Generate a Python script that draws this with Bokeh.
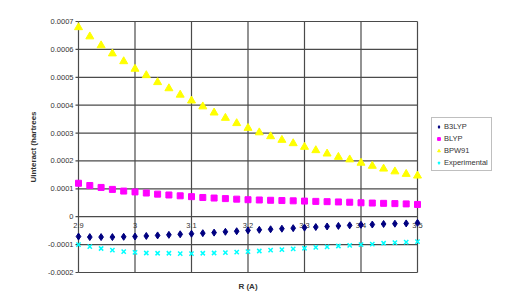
import math
from bokeh.plotting import figure
from bokeh.models import Legend, LegendItem, ColumnDataSource
from bokeh.core.properties import value
from bokeh.embed import file_html
from bokeh.resources import INLINE

r_values = [2.90, 2.92, 2.94, 2.96, 2.98, 3.00, 3.02, 3.04, 3.06, 3.08, 3.10,
            3.12, 3.14, 3.16, 3.18, 3.20, 3.22, 3.24, 3.26, 3.28, 3.30,
            3.32, 3.34, 3.36, 3.38, 3.40, 3.42, 3.44, 3.46, 3.48, 3.50]

b3lyp = [-0.000071, -0.000073, -0.000073, -0.000073, -0.000072, -0.000071, -0.000069,
         -0.000067, -0.000065, -0.000063, -0.000061, -0.000059, -0.000057, -0.000054,
         -0.000052, -0.000049, -0.000047, -0.000045, -0.000043, -0.000041, -0.000039,
         -0.000037, -0.000035, -0.000033, -0.000031, -0.000029, -0.000028, -0.000026,
         -0.000025, -0.000024, -0.000022]

blyp = [0.000120, 0.000112, 0.000105, 0.000098, 0.000092, 0.000089, 0.000085,
        0.000081, 0.000078, 0.000075, 0.000072, 0.000069, 0.000067, 0.000065,
        0.000063, 0.000061, 0.000060, 0.000059, 0.000058, 0.000057, 0.000056,
        0.000055, 0.000054, 0.000053, 0.000052, 0.000050, 0.000049, 0.000048,
        0.000047, 0.000046, 0.000044]

bpw91 = [0.000679, 0.000646, 0.000614, 0.000585, 0.000557, 0.000530, 0.000507,
         0.000482, 0.000460, 0.000437, 0.000416, 0.000395, 0.000373, 0.000354,
         0.000335, 0.000318, 0.000302, 0.000288, 0.000275, 0.000263, 0.000250,
         0.000238, 0.000226, 0.000214, 0.000205, 0.000193, 0.000182, 0.000172,
         0.000162, 0.000153, 0.000147]

experimental = [-0.000100, -0.000107, -0.000114, -0.000120, -0.000125, -0.000128, -0.000130,
                -0.000131, -0.000131, -0.000132, -0.000132, -0.000131, -0.000130, -0.000129,
                -0.000127, -0.000125, -0.000123, -0.000120, -0.000118, -0.000115, -0.000113,
                -0.000110, -0.000108, -0.000105, -0.000103, -0.000100, -0.000098, -0.000095,
                -0.000093, -0.000091, -0.000089]

x_ticks = [2.9, 3.0, 3.1, 3.2, 3.3, 3.4, 3.5]
x_tick_labels = ["2.9", "3", "3.1", "3.2", "3.3", "3.4", "3.5"]
y_ticks = [-0.0002, -0.0001, 0, 0.0001, 0.0002, 0.0003, 0.0004, 0.0005, 0.0006, 0.0007]
y_tick_labels = ["-0.0002", "-0.0001", "0", "0.0001", "0.0002", "0.0003",
                 "0.0004", "0.0005", "0.0006", "0.0007"]
x_title = "R (A)"
y_title = "Uinteract (hartrees"

FONT = "Liberation Sans"
GRID = "#4a4a4a"
TXT = "#333333"

# Plot area (2.9..3.5, -0.0002..0.0007) occupies pixels x 78..417, y 21..272;
# the frame covers the whole page so that every label and the legend sit inside it.
W, H = 512, 303
px_x = (x_ticks[-1] - x_ticks[0]) / 339.0
px_y = (y_ticks[-1] - y_ticks[0]) / 251.0
x_range = (x_ticks[0] - 78 * px_x, x_ticks[-1] + 95 * px_x)
y_range = (y_ticks[0] - 31 * px_y, y_ticks[-1] + 21 * px_y)

p = figure(width=W, height=H, output_backend="svg", toolbar_location=None,
           x_range=x_range, y_range=y_range,
           min_border=0)
p.background_fill_color = "white"
p.border_fill_color = "white"
p.outline_line_color = None
p.grid.visible = False
p.axis.visible = False

# gridlines / plot area border
p.segment(x0=x_ticks, x1=x_ticks, y0=[y_ticks[0]] * len(x_ticks), y1=[y_ticks[-1]] * len(x_ticks),
          line_color=GRID, line_width=1.2)
p.segment(x0=[x_ticks[0]] * len(y_ticks), x1=[x_ticks[-1]] * len(y_ticks), y0=y_ticks, y1=y_ticks,
          line_color=GRID, line_width=1.2)

# y tick marks and labels
p.ray(x=[x_ticks[0]] * len(y_ticks), y=y_ticks, length=3, length_units="screen", angle=math.pi,
      line_color=GRID, line_width=1.2)
ylab_src = ColumnDataSource(dict(x=[x_ticks[0]] * len(y_ticks), y=y_ticks, t=y_tick_labels))
p.text(x="x", y="y", text="t", source=ylab_src, text_align="right", text_baseline="middle",
       x_offset=-5, text_font=value(FONT), text_font_size="7.5px", text_color=TXT)

# y axis title
p.text(x=[x_ticks[0]], y=[(y_ticks[0] + y_ticks[-1]) / 2], text=[y_title],
       text_align="center", text_baseline="middle", x_offset=-45, angle=math.pi / 2,
       text_font=value(FONT), text_font_size="8px", text_font_style="bold", text_color=TXT)

# x tick labels along the zero line (Excel style)
lab_src = ColumnDataSource(dict(x=x_ticks, y=[0] * len(x_ticks), t=x_tick_labels))
p.text(x="x", y="y", text="t", source=lab_src, text_align="center", text_baseline="top",
       y_offset=6, text_font=value(FONT), text_font_size="7.5px", text_color=TXT)

# x axis title
p.text(x=[(x_ticks[0] + x_ticks[-1]) / 2], y=[y_ticks[0]], text=[x_title],
       text_align="center", text_baseline="top", y_offset=9,
       text_font=value(FONT), text_font_size="8px", text_font_style="bold", text_color=TXT)

src = ColumnDataSource(dict(r=r_values, b3lyp=b3lyp, blyp=blyp, bpw91=bpw91, exp=experimental))
r1 = p.scatter("r", "b3lyp", source=src, marker="diamond", size=7, color="#000080")
r2 = p.scatter("r", "blyp", source=src, marker="square", size=6, color="#FF00FF")
r3 = p.scatter("r", "bpw91", source=src, marker="triangle", size=8, color="#FFFF00")
r4 = p.scatter("r", "exp", source=src, marker="x", size=6, line_color="#00FFFF", line_width=1.5)

# legend: bottom-left corner at page pixel (431, 171)
legend = Legend(items=[LegendItem(label="B3LYP", renderers=[r1]),
                       LegendItem(label="BLYP", renderers=[r2]),
                       LegendItem(label="BPW91", renderers=[r3]),
                       LegendItem(label="Experimental", renderers=[r4])],
                location=(431, H - 171))
legend.label_text_font = FONT
legend.label_text_font_size = "7.5px"
legend.label_text_color = TXT
legend.glyph_width = 7
legend.glyph_height = 7
legend.label_height = 10
legend.label_standoff = 2
legend.spacing = 2
legend.padding = 3
legend.margin = 0
legend.border_line_color = "#808080"
legend.border_line_width = 1
legend.background_fill_color = "white"
p.add_layout(legend, "center")

open("out.html", "w").write(file_html(p, INLINE))
